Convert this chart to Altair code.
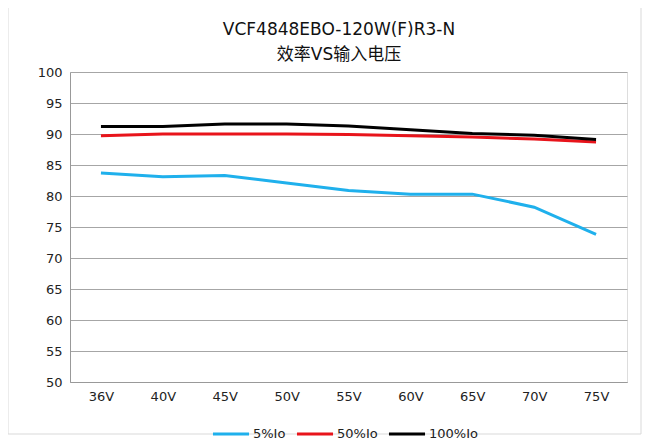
import altair as alt
import pandas as pd

voltages = ["36V", "40V", "45V", "50V", "55V", "60V", "65V", "70V", "75V"]
series_names = ["5%Io", "50%Io", "100%Io"]
eff_5 = [83.7, 83.1, 83.3, 82.1, 80.9, 80.3, 80.3, 78.2, 73.8]
eff_50 = [89.7, 90.0, 90.0, 90.0, 89.9, 89.7, 89.5, 89.2, 88.7]
eff_100 = [91.2, 91.2, 91.6, 91.6, 91.3, 90.7, 90.1, 89.8, 89.1]
colors = ["#1fb0ec", "#e8141b", "#000000"]
y_ticks = [50, 55, 60, 65, 70, 75, 80, 85, 90, 95, 100]
title_lines = ["VCF4848EBO-120W(F)R3-N", "效率VS输入电压"]

rows = []
for name, vals in zip(series_names, [eff_5, eff_50, eff_100]):
    for v, e in zip(voltages, vals):
        rows.append({"voltage": v, "eff": e, "series": name})
df = pd.DataFrame(rows)

FONT = "DejaVu Sans, Noto Sans CJK SC"

frame = alt.Chart(pd.DataFrame({"a": [0]})).mark_rect(
    fill=None, stroke="#d9d9d9", strokeWidth=1
).encode(
    x=alt.value(-62), x2=alt.value(571), y=alt.value(-67), y2=alt.value(362)
)

t1 = alt.Chart(pd.DataFrame({"t": [title_lines[0]]})).mark_text(
    font=FONT, fontSize=17, color="#111", align="center", baseline="middle"
).encode(text="t:N", x=alt.value(269), y=alt.value(-42))

t2 = alt.Chart(pd.DataFrame({"t": [title_lines[1]]})).mark_text(
    font=FONT, fontSize=17, color="#111", align="center", baseline="middle"
).encode(text="t:N", x=alt.value(269), y=alt.value(-17))

lines = alt.Chart(df).mark_line(strokeWidth=3).encode(
    x=alt.X("voltage:N", sort=voltages, title=None,
            scale=alt.Scale(paddingInner=0, paddingOuter=0.5),
            axis=alt.Axis(labelAngle=0, labelFontSize=13, labelColor="#222",
                          labelFont=FONT, labelPadding=8, ticks=False,
                          domainColor="#999", grid=False)),
    y=alt.Y("eff:Q", title=None,
            scale=alt.Scale(domain=[50, 100], nice=False),
            axis=alt.Axis(values=y_ticks, labelFontSize=13, labelColor="#222",
                          labelFont=FONT, labelPadding=8, ticks=False,
                          domainColor="#999", gridColor="#a6a6a6")),
    color=alt.Color("series:N", sort=series_names,
                    scale=alt.Scale(domain=series_names, range=colors),
                    legend=alt.Legend(title=None, orient="none", direction="horizontal",
                                      legendX=141, legendY=342,
                                      symbolType="stroke", symbolStrokeWidth=3,
                                      symbolSize=1300, labelFontSize=13,
                                      labelFont=FONT, labelColor="#222",
                                      columnPadding=4, labelOffset=2)),
    order=alt.Order("series:N"),
)

chart = alt.layer(frame, t1, t2, lines).properties(
    width=557,
    height=310,
    padding={"left": 62, "top": 64, "right": 18, "bottom": 58},
    autosize=alt.AutoSizeParams(type="none"),
).configure_view(stroke="#a6a6a6").configure(background="white")

chart.save("out.html", embed_options={"renderer": "svg", "actions": False})
